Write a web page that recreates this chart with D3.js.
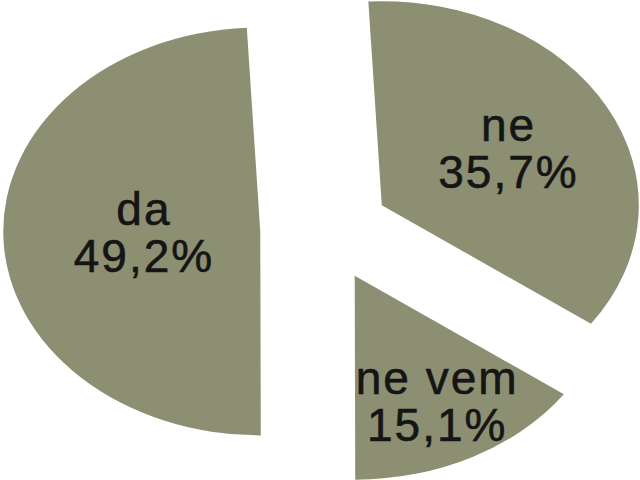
<!DOCTYPE html>
<html>
<head>
<meta charset="utf-8">
<script src="https://cdn.jsdelivr.net/npm/d3@7"></script>
<style>
    html, body { margin: 0; padding: 0; background: #ffffff; }
    #chart { width: 640px; height: 480px; }
</style>
</head>
<body>
<div id="chart"></div>
<script>
// --- Data ---
const categories = ['ne', 'ne vem', 'da'];
const percents = [35.7, 15.1, 49.2];
const percentLabels = ['35,7%', '15,1%', '49,2%'];

// --- Layout ---
const width = 640, height = 480;
const center = { x: 325, y: 230 };
const rx = 257, ry = 204;          // pie is stretched into an ellipse
const explode = 0.252;             // fraction of radius each slice is pulled out
const startAngle = -3 * Math.PI / 180;
const sliceColor = '#8c8f72';

const svg = d3.select('#chart')
    .append('svg')
    .attr('width', width)
    .attr('height', height);

const pie = d3.pie()
    .sort(null)
    .value(d => d)
    .startAngle(startAngle)
    .endAngle(startAngle + 2 * Math.PI);

const slices = pie(percents);

// arc drawn on a circle of radius ry, then stretched horizontally
const arc = d3.arc().innerRadius(0).outerRadius(ry);

// point on the (unit) ellipse for an angle measured clockwise from 12 o'clock
function ellipsePoint(angle, r) {
    return [Math.sin(angle) * r * rx, -Math.cos(angle) * r * ry];
}

const g = svg.selectAll('g.slice')
    .data(slices)
    .enter()
    .append('g')
    .attr('class', 'slice')
    .attr('transform', d => {
        const mid = (d.startAngle + d.endAngle) / 2;
        const [ox, oy] = ellipsePoint(mid, explode);
        return `translate(${center.x + ox},${center.y + oy})`;
    });

g.append('path')
    .attr('d', arc)
    .attr('transform', `scale(${rx / ry},1)`)
    .attr('fill', sliceColor);

// labels sit a bit past the sector centroid, pushed further out for thin slices
g.each(function (d, i) {
    const span = d.endAngle - d.startAngle;
    let r = 1.05 * (2 / 3) * Math.sin(span / 2) / (span / 2);
    if (span < Math.PI / 2) r = 0.7;
    const mid = (d.startAngle + d.endAngle) / 2;
    const [lx, ly] = ellipsePoint(mid, r);

    const text = d3.select(this).append('text')
        .attr('text-anchor', 'middle')
        .attr('font-family', 'Liberation Sans, Arial, sans-serif')
        .attr('font-size', 46)
        .attr('letter-spacing', 2)
        .attr('fill', '#151515')
        .attr('stroke', '#151515')
        .attr('stroke-width', 0.6);

    text.append('tspan').attr('x', lx).attr('y', ly - 9).text(categories[i]);
    text.append('tspan').attr('x', lx).attr('y', ly + 38).text(percentLabels[i]);
});
</script>
</body>
</html>
